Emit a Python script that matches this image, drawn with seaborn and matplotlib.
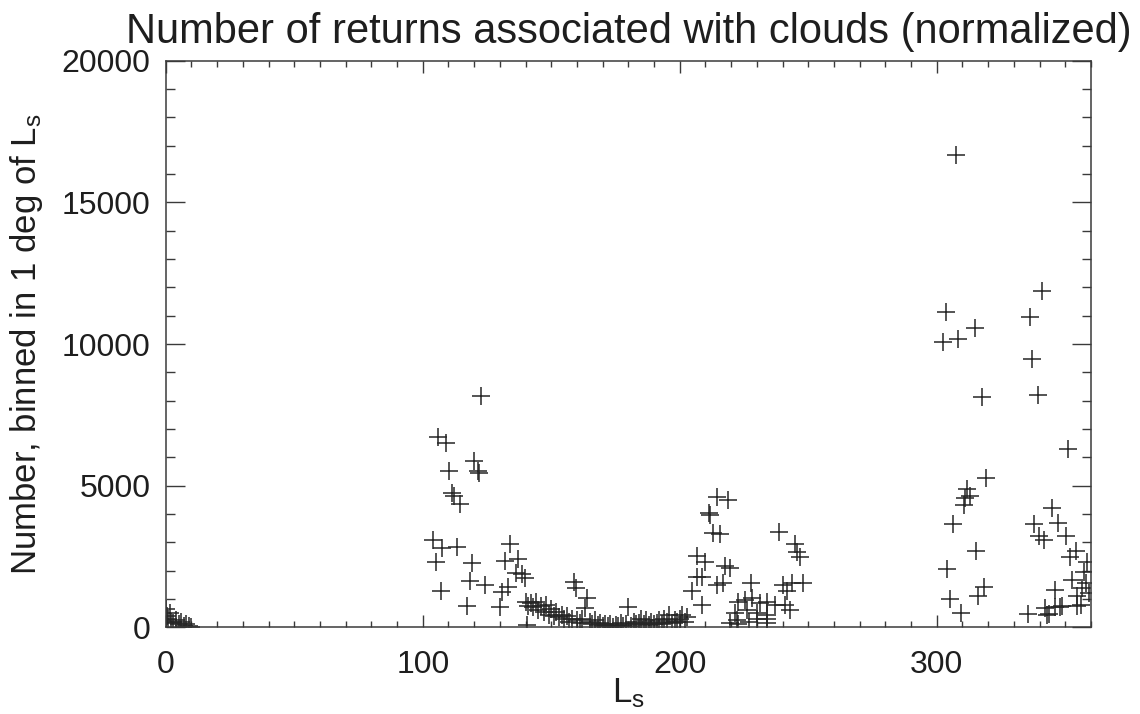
import numpy as np
import pandas as pd
import matplotlib
matplotlib.use("Agg")
import matplotlib.pyplot as plt
import seaborn as sns
from matplotlib.ticker import MultipleLocator

# Cloud-return counts per 1-degree bin of solar longitude (Ls)
ls_spring = [0, 0.5, 1, 1.5, 2, 3, 4, 5, 6, 7, 8, 9, 10]
counts_spring = [650, 400, 300, 520, 200, 150, 260, 100, 180, 60, 110, 30, 10]

ls_aphelion = [104.0, 105.0, 105.9, 107.1, 107.5, 109.0, 110.4, 111.4, 112.0, 113.3,
               114.3, 117.4, 118.4, 119.1, 120.1, 121.4, 122.0, 122.8, 124.2, 130.1,
               130.8, 132.1, 133.3, 134.0, 136.3, 137.2, 138.5, 139.8]
counts_aphelion = [3090, 2310, 6720, 1280, 2790, 6500, 5530, 4730, 4650, 2820,
                   4350, 750, 1630, 2280, 5880, 5530, 5440, 8160, 1490, 710,
                   1260, 2350, 1430, 2940, 1910, 2400, 1880, 1730]

ls_equinox = [140, 140.5, 141, 142, 143, 144, 145, 146, 147, 148, 149, 150, 151, 152,
              153, 154, 155, 156, 157, 158, 159, 159.5, 160, 161, 162, 163, 164, 165,
              166, 167, 168, 169, 170, 171, 172, 173, 174, 175, 176, 177, 178, 179,
              180, 181, 182, 183, 184, 185, 186, 187, 188, 189, 190, 191, 192, 193,
              194, 195, 196, 197, 198, 199, 200, 201, 202, 203]
counts_equinox = [900, 80, 750, 850, 700, 900, 600, 750, 550, 800, 450, 650, 400, 550,
                  350, 450, 300, 400, 200, 300, 1600, 1380, 250, 150, 300, 670, 1020, 200,
                  100, 250, 80, 150, 50, 100, 30, 120, 20, 80, 50, 150, 40, 100,
                  730, 60, 200, 100, 150, 280, 120, 250, 80, 200, 100, 150, 250, 120,
                  300, 200, 430, 150, 250, 180, 300, 430, 200, 350]

ls_perihelion = [204.6, 206.6, 206.8, 208.5, 208.5, 209.9, 211.2, 211.6, 212.9, 214.4,
                 214.4, 215.7, 217.0, 217.6, 218.9, 219.6, 219.6, 221.5, 222.2, 222.8,
                 222.5, 225.4, 226.0, 227.7, 227.0, 228.0, 230.0, 230.0, 231.3, 233.9,
                 233.9, 233.9, 234.0, 237.1, 238.8, 240.1, 241.0, 241.6, 242.9, 243.6,
                 244.8, 245.5, 246.8, 247.8]
counts_perihelion = [1290, 1765, 2520, 1765, 790, 2320, 4020, 3950, 3340, 4590,
                     1490, 3290, 1570, 2160, 4490, 2080, 160, 515, 260, 900,
                     100, 960, 610, 1570, 200, 1020, 515, 300, 870, 900,
                     430, 280, 150, 790, 3380, 1490, 790, 1290, 610, 1550,
                     2940, 2670, 2490, 1570]

ls_dusty = [302.5, 303.7, 304.1, 305.0, 306.3, 307.5, 308.3, 309.5, 310.6, 311.1,
            311.9, 312.8, 314.7, 315.4, 316.0, 317.5, 318.3, 319.2,
            335.4, 336.4, 336.9, 337.7, 339.2, 339.9, 340.8, 341.8, 342.1, 342.8,
            343.7, 344.8, 345.9, 345.9, 347.2, 347.8, 348.9, 350.2, 351.1, 351.9,
            352.7, 354.0, 354.5, 354.7, 356.0, 356.6, 357.2, 357.9, 358.5, 359.3]
counts_dusty = [10085, 11130, 2060, 1010, 3640, 16670, 10190, 520, 4320, 4560,
                4870, 4650, 10570, 2690, 1110, 8120, 1420, 5270,
                460, 10960, 9460, 3640, 8190, 3210, 11880, 3080, 670, 430,
                460, 4220, 1310, 730, 3670, 710, 750, 3240, 6310, 2490,
                1670, 2700, 750, 1110, 790, 1380, 1960, 1570, 2300, 1200]

df = pd.DataFrame({
    "ls": ls_spring + ls_aphelion + ls_equinox + ls_perihelion + ls_dusty,
    "count": counts_spring + counts_aphelion + counts_equinox + counts_perihelion + counts_dusty,
})

sns.set_style("ticks")
plt.rcParams["font.family"] = ["Liberation Sans", "DejaVu Sans"]
plt.rcParams["mathtext.fontset"] = "custom"
plt.rcParams["mathtext.rm"] = "Liberation Sans"
plt.rcParams["mathtext.it"] = "Liberation Sans"

ink = "#262626"
fig = plt.figure(figsize=(11.4, 7.14), dpi=100)
ax = fig.add_axes([0.1454, 0.1214, 0.8116, 0.7934])

sns.scatterplot(data=df, x="ls", y="count", marker="+", s=150, color=ink,
                linewidth=1.1, ax=ax, legend=False)

ax.set_xlim(0, 360)
ax.set_ylim(0, 20000)
ax.xaxis.set_major_locator(MultipleLocator(100))
ax.xaxis.set_minor_locator(MultipleLocator(10))
ax.yaxis.set_major_locator(MultipleLocator(5000))
ax.yaxis.set_minor_locator(MultipleLocator(1000))

for side in ax.spines.values():
    side.set_visible(True)
    side.set_color("#3a3a3a")
    side.set_linewidth(1.1)

ax.tick_params(which="both", direction="in", top=True, right=True,
               color="#3a3a3a", width=1.0, labelsize=23, labelcolor="#1e1e1e")
ax.tick_params(axis="y", which="major", length=13.5, pad=11)
ax.tick_params(axis="y", which="minor", length=6.5)
ax.tick_params(axis="x", which="major", length=8.3, pad=16)
ax.tick_params(axis="x", which="minor", length=4.2)

ax.set_xlabel(r"L$_{\rm s}$", fontsize=25, color="#1e1e1e", labelpad=-2)
ax.set_ylabel(r"Number, binned in 1 deg of L$_{\rm s}$", fontsize=25,
              color="#1e1e1e", labelpad=12)
ax.set_title("Number of returns associated with clouds (normalized)",
             fontsize=30, color="#1e1e1e", pad=13)

fig.savefig("out.png", dpi=100)
